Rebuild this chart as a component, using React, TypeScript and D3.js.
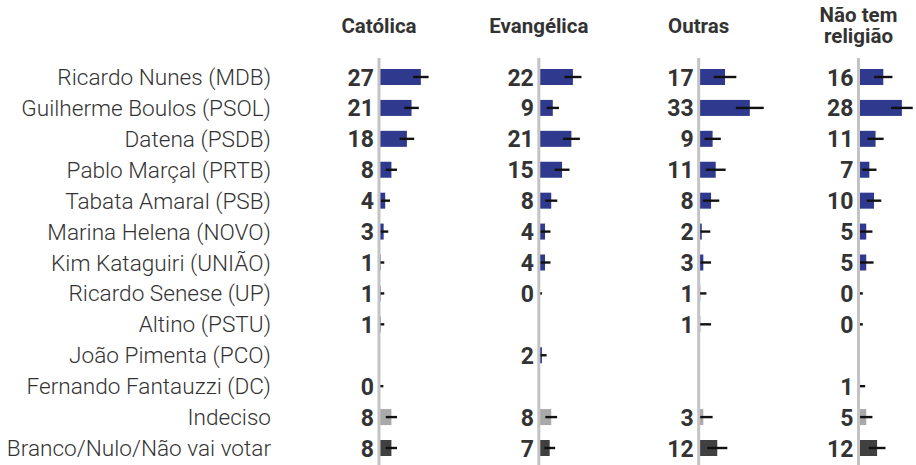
import React from "react";
import * as d3 from "d3";

const candidates = [
  "Ricardo Nunes (MDB)",
  "Guilherme Boulos (PSOL)",
  "Datena (PSDB)",
  "Pablo Marçal (PRTB)",
  "Tabata Amaral (PSB)",
  "Marina Helena (NOVO)",
  "Kim Kataguiri (UNIÃO)",
  "Ricardo Senese (UP)",
  "Altino (PSTU)",
  "João Pimenta (PCO)",
  "Fernando Fantauzzi (DC)",
  "Indeciso",
  "Branco/Nulo/Não vai votar",
];

const groups = ["Católica", "Evangélica", "Outras", "Não tem religião"];
const groupTitleLines = [["Católica"], ["Evangélica"], ["Outras"], ["Não tem", "religião"]];

const catolica = [27, 21, 18, 8, 4, 3, 1, 1, 1, null, 0, 8, 8];
const evangelica = [22, 9, 21, 15, 8, 4, 4, 0, null, 2, null, 8, 7];
const outras = [17, 33, 9, 11, 8, 2, 3, 1, 1, null, null, 3, 12];
const naoTem = [16, 28, 11, 7, 10, 5, 5, 0, 0, null, 1, 5, 12];

const catolicaErr = [5, 4.7, 4.7, 3.6, 3.1, 3, 2.4, 2.4, 2.4, null, 2.8, 3.6, 3.6];
const evangelicaErr = [5.5, 4, 5.5, 4.8, 3.9, 3.5, 3.5, 2, null, 3, null, 3.8, 3.5];
const outrasErr = [7.3, 9, 5.3, 6.4, 5.3, 5.5, 5, 4, 7, null, null, 6, 6.5];
const naoTemErr = [5.9, 7, 5.2, 4.6, 4.7, 4, 4.7, 2.8, 2.8, null, 3.3, 4, 5.4];

const seriesValues = [catolica, evangelica, outras, naoTem];
const seriesErrors = [catolicaErr, evangelicaErr, outrasErr, naoTemErr];

const W = 916;
const H = 465;
const BLUE = "#2f3a8e";
const LIGHT = "#a9a9a9";
const DARK = "#404040";

export default function App() {
  const y = d3.scalePoint<string>().domain(candidates).range([77, 448]);
  const panelX = d3.scalePoint<string>().domain(groups).range([379, 858.5]);
  const x = d3.scaleLinear().domain([0, 1]).range([0, 1.55]);
  const barH = 16;

  const colorFor = (i: number) =>
    i === candidates.length - 2 ? LIGHT : i === candidates.length - 1 ? DARK : BLUE;

  return (
    <svg
      width={W}
      height={H}
      style={{ position: "absolute", left: 0, top: 0, background: "#fff" }}
      fontFamily="Roboto, 'Noto Sans', sans-serif"
    >
      {candidates.map((c) => (
        <text
          key={c}
          x={271}
          y={(y(c) as number) + 8}
          textAnchor="end"
          fontSize={22.6}
          fontWeight={300}
          fill="#333"
        >
          {c}
        </text>
      ))}
      {groups.map((g, gi) => {
        const ax = panelX(g) as number;
        const lines = groupTitleLines[gi];
        const vals = seriesValues[gi];
        const errs = seriesErrors[gi];
        return (
          <g key={g}>
            <text
              x={ax}
              y={lines.length === 1 ? 33 : 22}
              textAnchor="middle"
              fontSize={20.5}
              fontWeight={700}
              fill="#333"
            >
              {lines.map((ln, li) => (
                <tspan key={ln} x={ax} dy={li === 0 ? 0 : 21}>
                  {ln}
                </tspan>
              ))}
            </text>
            {vals.map((v, i) => {
              if (v === null) return null;
              const cy = y(candidates[i]) as number;
              const e = errs[i] as number;
              const x0 = ax + x(Math.max(0, v - e));
              const x1 = ax + x(v + e);
              return (
                <g key={i}>
                  <rect x={ax} y={cy - barH / 2} width={x(v)} height={barH} fill={colorFor(i)} />
                  <line x1={x0} x2={x1} y1={cy} y2={cy} stroke="#111" strokeWidth={2.4} />
                </g>
              );
            })}
            <line x1={ax} x2={ax} y1={58} y2={H} stroke="#c3c3c3" strokeWidth={3} />
            {vals.map((v, i) =>
              v === null ? null : (
                <text
                  key={"t" + i}
                  x={ax - 5}
                  y={(y(candidates[i]) as number) + 8.5}
                  textAnchor="end"
                  fontSize={23}
                  fontWeight={700}
                  fill="#333"
                >
                  {d3.format("d")(v)}
                </text>
              )
            )}
          </g>
        );
      })}
    </svg>
  );
}
